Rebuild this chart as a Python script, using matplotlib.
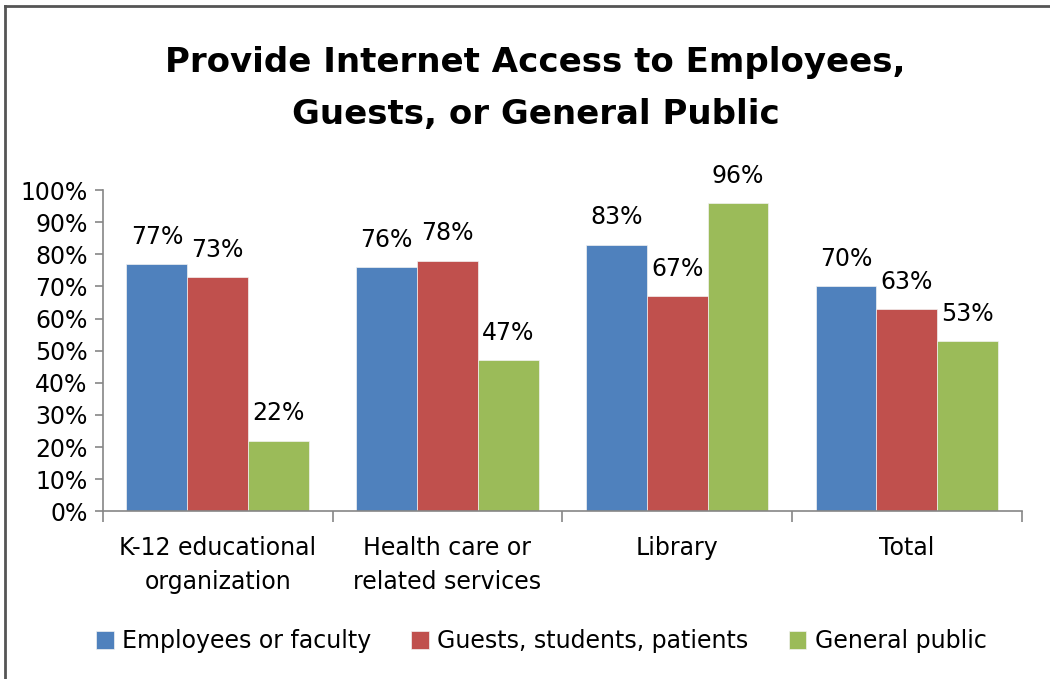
import numpy as np
import matplotlib
matplotlib.use("Agg")
import matplotlib.pyplot as plt
from matplotlib.lines import Line2D

# ---------- Dados ----------
categorias = ["K-12 educational\norganization", "Health care or\nrelated services", "Library", "Total"]
series = ["Employees or faculty", "Guests, students, patients", "General public"]
empregados = [77, 76, 83, 70]
visitantes = [73, 78, 67, 63]
publico = [22, 47, 96, 53]
cores = ["#4F81BD", "#C0504D", "#9BBB59"]

plt.rcParams["font.family"] = ["DejaVu Sans"]

fig = plt.figure(figsize=(10.5, 6.79), dpi=100)
ax = fig.add_axes([0.098, 0.247, 0.875, 0.473])

x = np.arange(len(categorias))
largura = 0.265
valores = [empregados, visitantes, publico]
for i, (vals, cor, nome) in enumerate(zip(valores, cores, series)):
    pos = x + (i - 1) * largura
    barras = ax.bar(pos, vals, largura, color=cor, edgecolor="#f2f2f2", linewidth=0.5, label=nome)
    for b, v in zip(barras, vals):
        ax.annotate(f"{v}%", (b.get_x() + b.get_width() / 2, v), xytext=(0, 11),
                    textcoords="offset points", ha="center", va="bottom", fontsize=17)

ax.set_xlim(-0.5, len(categorias) - 0.5)
ax.set_ylim(0, 100)
ax.set_yticks(range(0, 101, 10))
ax.set_yticklabels([f"{t}%" for t in range(0, 101, 10)], fontsize=17)
ax.set_xticks(x)
ax.set_xticklabels(categorias, fontsize=17, linespacing=1.5)
ax.tick_params(axis="x", length=0, pad=18)
ax.set_xticks(np.arange(-0.5, len(categorias)), minor=True)
ax.tick_params(axis="x", which="minor", length=8, color="#868686", width=1.2)
ax.tick_params(axis="y", length=6, color="#868686", width=1.2, pad=5)
for s in ["top", "right"]:
    ax.spines[s].set_visible(False)
for s in ["left", "bottom"]:
    ax.spines[s].set_color("#868686")
    ax.spines[s].set_linewidth(1.2)

fig.text(0.51, 0.87, "Provide Internet Access to Employees,\nGuests, or General Public",
         ha="center", va="center", fontsize=24.5, fontweight="bold", linespacing=1.72)

ax.legend(loc="center", bbox_to_anchor=(0.477, -0.405), ncol=3, frameon=False, fontsize=17,
          handlelength=0.75, handleheight=0.75, handletextpad=0.35, columnspacing=1.7)

# moldura da captura
fig.add_artist(Line2D([5 / 1050, 1], [1 - 6 / 679, 1 - 6 / 679], color="#555555", linewidth=2))
fig.add_artist(Line2D([5 / 1050, 5 / 1050], [0, 1 - 6 / 679], color="#555555", linewidth=2))

fig.savefig("out.png", dpi=100)
